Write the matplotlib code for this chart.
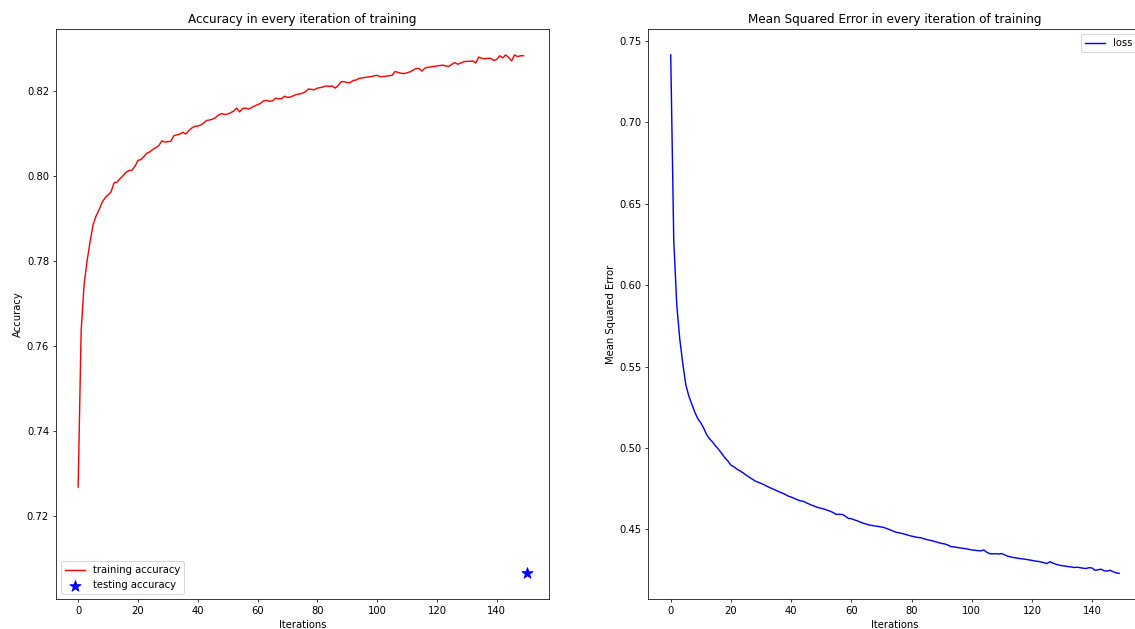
import numpy as np
import matplotlib
matplotlib.use("Agg")
import matplotlib.pyplot as plt

# training accuracy per iteration
train_acc = [
    0.7268, 0.7635, 0.7745, 0.7800, 0.7845, 0.7885, 0.7905, 0.7920, 0.7937, 0.7948,
    0.7955, 0.7962, 0.7983, 0.7985, 0.7993, 0.8000, 0.8008, 0.8012, 0.8013, 0.8022,
    0.8036, 0.8038, 0.8045, 0.8053, 0.8056, 0.8062, 0.8066, 0.8071, 0.8082, 0.8079,
    0.8080, 0.8081, 0.8094, 0.8096, 0.8098, 0.8102, 0.8098, 0.8106, 0.8112, 0.8116,
    0.8117, 0.8119, 0.8124, 0.8130, 0.8131, 0.8133, 0.8137, 0.8143, 0.8146, 0.8144,
    0.8145, 0.8148, 0.8152, 0.8159, 0.8150, 0.8158, 0.8159, 0.8157, 0.8160, 0.8164,
    0.8167, 0.8170, 0.8176, 0.8177, 0.8175, 0.8176, 0.8182, 0.8181, 0.8181, 0.8187,
    0.8184, 0.8185, 0.8188, 0.8191, 0.8192, 0.8194, 0.8197, 0.8204, 0.8203, 0.8202,
    0.8206, 0.8207, 0.8209, 0.8211, 0.8210, 0.8211, 0.8206, 0.8212, 0.8221, 0.8221,
    0.8219, 0.8219, 0.8224, 0.8225, 0.8229, 0.8230, 0.8231, 0.8232, 0.8233, 0.8235,
    0.8236, 0.8233, 0.8233, 0.8234, 0.8235, 0.8236, 0.8245, 0.8243, 0.8241, 0.8240,
    0.8242, 0.8244, 0.8248, 0.8252, 0.8252, 0.8246, 0.8253, 0.8255, 0.8256, 0.8257,
    0.8258, 0.8259, 0.8260, 0.8258, 0.8257, 0.8262, 0.8266, 0.8262, 0.8265, 0.8268,
    0.8269, 0.8269, 0.8270, 0.8265, 0.8279, 0.8276, 0.8275, 0.8276, 0.8276, 0.8271,
    0.8273, 0.8282, 0.8277, 0.8284, 0.8278, 0.8270, 0.8284, 0.8280, 0.8282, 0.8282,
]

# final testing accuracy, drawn at iteration 150
test_iter = 150
test_acc = 0.7065

# mean squared error per iteration
loss = [
    0.7415, 0.6280, 0.5880, 0.5670, 0.5520, 0.5390, 0.5320, 0.5270, 0.5220, 0.5180,
    0.5155, 0.5120, 0.5080, 0.5055, 0.5035, 0.5010, 0.4990, 0.4965, 0.4940, 0.4920,
    0.4895, 0.4885, 0.4870, 0.4860, 0.4848, 0.4835, 0.4822, 0.4810, 0.4798, 0.4790,
    0.4783, 0.4775, 0.4765, 0.4756, 0.4748, 0.4740, 0.4731, 0.4724, 0.4716, 0.4705,
    0.4699, 0.4691, 0.4683, 0.4676, 0.4673, 0.4664, 0.4656, 0.4648, 0.4641, 0.4634,
    0.4630, 0.4625, 0.4618, 0.4612, 0.4603, 0.4592, 0.4593, 0.4592, 0.4582, 0.4568,
    0.4566, 0.4559, 0.4553, 0.4545, 0.4538, 0.4533, 0.4527, 0.4524, 0.4521, 0.4518,
    0.4515, 0.4511, 0.4504, 0.4497, 0.4489, 0.4482, 0.4479, 0.4474, 0.4470, 0.4464,
    0.4459, 0.4455, 0.4451, 0.4449, 0.4444, 0.4438, 0.4434, 0.4430, 0.4424, 0.4419,
    0.4414, 0.4411, 0.4405, 0.4395, 0.4393, 0.4390, 0.4387, 0.4384, 0.4382, 0.4378,
    0.4374, 0.4372, 0.4370, 0.4368, 0.4374, 0.4360, 0.4351, 0.4350, 0.4351, 0.4349,
    0.4352, 0.4343, 0.4336, 0.4331, 0.4327, 0.4324, 0.4321, 0.4319, 0.4316, 0.4313,
    0.4310, 0.4306, 0.4304, 0.4300, 0.4296, 0.4290, 0.4302, 0.4293, 0.4286, 0.4281,
    0.4277, 0.4275, 0.4272, 0.4270, 0.4266, 0.4268, 0.4265, 0.4262, 0.4260, 0.4265,
    0.4263, 0.4249, 0.4252, 0.4256, 0.4246, 0.4244, 0.4249, 0.4240, 0.4233, 0.4230,
]

iters = np.arange(len(train_acc))

plt.rcParams['font.size'] = 10.6

fig = plt.figure(figsize=(1135 / 68, 629 / 68), dpi=68)
# the right panel runs past the edge of the picture, as in the screenshot
ax1 = fig.add_axes([0.0491, 0.0472, 0.4346, 0.9067])
ax2 = fig.add_axes([0.5712, 0.0472, 0.4346, 0.9067])

ax1.plot(iters, train_acc, color='red', linewidth=1.5, label='training accuracy')
ax1.scatter(test_iter, test_acc, marker='*', color='blue', s=150, label='testing accuracy')
ax1.set_title('Accuracy in every iteration of training')
ax1.set_xlabel('Iterations')
ax1.set_ylabel('Accuracy')
ax1.legend(loc='lower left')

ax2.plot(np.arange(len(loss)), loss, color='blue', linewidth=1.5, label='loss')
ax2.set_title('Mean Squared Error in every iteration of training')
ax2.set_xlabel('Iterations')
ax2.set_ylabel('Mean Squared Error')
ax2.legend(loc='upper right')

fig.savefig('out.png', dpi=68)
